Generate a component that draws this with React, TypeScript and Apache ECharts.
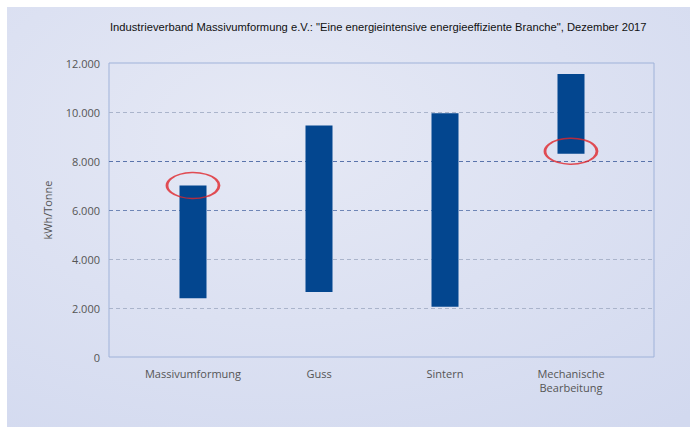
import React, { useEffect, useRef } from "react";
import * as echarts from "echarts";

const categories = ["Massivumformung", "Guss", "Sintern", "Mechanische\nBearbeitung"];
const lowValues = [2400, 2650, 2050, 8300];
const highValues = [7000, 9450, 9950, 11550];
const highlightPoints: [number, number][] = [
  [0, 7000],
  [3, 8400],
];
const titleText =
  'Industrieverband Massivumformung e.V.: "Eine energieintensive energieeffiziente Branche", Dezember 2017';
const yAxisName = "kWh/Tonne";

function fmt(v: number): string {
  return String(v).replace(/\B(?=(\d{3})+(?!\d))/g, ".");
}

export default function App() {
  const ref = useRef<HTMLDivElement>(null);
  useEffect(() => {
    if (!ref.current) return;
    const chart = echarts.init(ref.current, null, { renderer: "svg" });
    const rangeValues = highValues.map((h, i) => h - lowValues[i]);
    const option: any = {
      animation: false,
      backgroundColor: "#ffffff",
      graphic: [
        {
          type: "rect",
          z: -10,
          silent: true,
          shape: { x: 7, y: 7, width: 683, height: 420 },
          style: {
            fill: new echarts.graphic.RadialGradient(0.4, 0.3, 0.9, [
              { offset: 0, color: "#e6e9f5" },
              { offset: 1, color: "#d2d9ef" },
            ]),
          },
        },
      ],
      title: {
        text: titleText,
        left: 105,
        top: 16,
        textStyle: {
          fontFamily: "Liberation Sans",
          fontSize: 11.2,
          fontWeight: "normal",
          color: "#111111",
        },
      },
      grid: [
        { left: 130, top: 63, width: 504, height: 294 },
        {
          left: 109,
          top: 63,
          width: 545,
          height: 294,
          show: true,
          borderColor: "#9fb2d9",
          borderWidth: 1,
          backgroundColor: "transparent",
        },
      ],
      xAxis: [
        {
          type: "category",
          gridIndex: 0,
          data: categories,
          axisLine: { show: false },
          axisTick: { show: false },
          axisLabel: {
            color: "#555555",
            fontFamily: "Open Sans",
            fontSize: 11,
            margin: 9,
            lineHeight: 14,
          },
        },
        { type: "value", gridIndex: 1, show: false, min: 0, max: 1 },
      ],
      yAxis: [
        {
          type: "value",
          gridIndex: 1,
          min: 0,
          max: 12000,
          interval: 2000,
          name: yAxisName,
          nameLocation: "middle",
          nameGap: 56,
          nameTextStyle: { color: "#555555", fontFamily: "Open Sans", fontSize: 11 },
          axisLine: { show: false },
          axisTick: { show: false },
          axisLabel: {
            color: "#555555",
            fontFamily: "Open Sans",
            fontSize: 11,
            margin: 9,
            formatter: (v: number) => fmt(v),
          },
          splitLine: {
            show: true,
            lineStyle: {
              type: [4, 3],
              width: 1,
              color: ["transparent", "#aab4cb", "#aab4cb", "#6f86b6", "#5a74ab", "#aab4cb", "transparent"],
            },
          },
        },
        { type: "value", gridIndex: 0, min: 0, max: 12000, show: false },
      ],
      series: [
        {
          type: "bar",
          xAxisIndex: 0,
          yAxisIndex: 1,
          stack: "range",
          barWidth: 27,
          silent: true,
          itemStyle: { color: "rgba(0,0,0,0)" },
          data: lowValues,
        },
        {
          type: "bar",
          xAxisIndex: 0,
          yAxisIndex: 1,
          stack: "range",
          barWidth: 27,
          itemStyle: { color: "#03468f" },
          data: rangeValues,
        },
        {
          type: "scatter",
          xAxisIndex: 0,
          yAxisIndex: 1,
          symbol: "circle",
          symbolSize: [52, 26],
          z: 5,
          itemStyle: { color: "rgba(0,0,0,0)", borderColor: "#e0262b", borderWidth: 2 },
          data: highlightPoints,
        },
      ],
    };
    chart.setOption(option);
    return () => chart.dispose();
  }, []);
  return (
    <div
      ref={ref}
      style={{ position: "fixed", left: 0, top: 0, width: 698, height: 433 }}
    />
  );
}
